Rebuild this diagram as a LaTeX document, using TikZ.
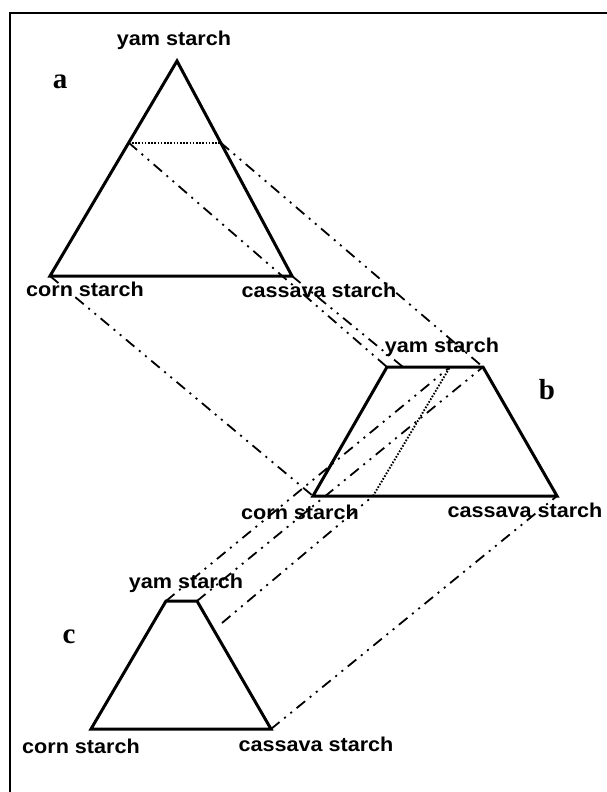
\documentclass[tikz,border=0pt]{standalone}
\usepackage{fontspec}
\newfontfamily\lblfont[FakeStretch=1.08]{Liberation Sans}
\newfontfamily\tagfont{Liberation Serif}
\usetikzlibrary{calc}

\begin{document}
\begin{tikzpicture}[x=1pt,y=-1pt,
  outline/.style={line width=3pt,line join=miter},
  proj/.style={line width=1.8pt,dash pattern=on 11pt off 6pt on 2pt off 6pt on 2pt off 6pt},
  cut/.style={line width=1.9pt,dash pattern=on 1.6pt off 1.6pt},
  lbl/.style={font=\lblfont\bfseries\fontsize{20}{24}\selectfont,inner sep=0pt},
  tag/.style={font=\tagfont\bfseries\fontsize{29}{33}\selectfont,inner sep=0pt}]
  \useasboundingbox (0,0) rectangle (607,792);

  %% Frame
  \draw[line width=1.6pt] (10,792) -- (10,13) -- (607,13);

  %% Triangle a
  \coordinate (aYam) at (177,61);
  \coordinate (aCorn) at (50,276);
  \coordinate (aCas) at (292,276);
  \coordinate (aCutL) at ($(aYam)!0.38!(aCorn)$);
  \coordinate (aCutR) at ($(aYam)!0.38!(aCas)$);
  \draw[outline] (aYam) -- (aCorn) -- (aCas) -- cycle;
  \draw[cut] (aCutL) -- (aCutR);
  \node[tag] (tagA) at (60,82) {a};
  \node[lbl] (aYamLbl) at (174,40) {yam starch};
  \node[lbl] (aCornLbl) at (85,289) {corn starch};
  \node[lbl] (aCasLbl) at (319,290) {cassava starch};

  %% Trapezoid b
  \coordinate (bYamL) at (387,367);
  \coordinate (bYamR) at (483,367);
  \coordinate (bCorn) at (313,496);
  \coordinate (bCas) at (557,496);
  \coordinate (bTopP) at (403,367);
  \coordinate (bTopQ) at (450,367);
  \coordinate (bBotQ) at (373,496);
  \draw[outline] (bYamL) -- (bYamR) -- (bCas) -- (bCorn) -- cycle;
  \node[tag] (tagB) at (547,390) {b};
  \node[lbl] (bYamLbl) at (442,347) {yam starch};
  \node[lbl] (bCornLbl) at (300,512) {corn starch};
  \node[lbl] (bCasLbl) at (525,510) {cassava starch};

  %% Trapezoid c
  \coordinate (cYamL) at (166,601);
  \coordinate (cYamR) at (197,601);
  \coordinate (cCorn) at (91,729);
  \coordinate (cCas) at (271,729);
  \coordinate (cFree) at (222,623);
  \draw[outline] (cYamL) -- (cYamR) -- (cCas) -- (cCorn) -- cycle;
  \node[tag] (tagC) at (69,637) {c};
  \node[lbl] (cYamLbl) at (186,583) {yam starch};
  \node[lbl] (cCornLbl) at (81,746) {corn starch};
  \node[lbl] (cCasLbl) at (316,744) {cassava starch};

  %% Projection lines a -> b
  \draw[proj] (aCutL) -- (bYamL);
  \draw[proj] (aCutR) -- (bYamR);
  \draw[proj] (aCas) -- (bTopP);
  \draw[proj] (aCorn) -- (bCorn);

  %% Projection lines c -> b
  \draw[proj] (cYamL) -- (bTopQ);
  \draw[proj] (cYamR) -- (bYamR);
  \draw[proj] (cFree) -- (bBotQ);
  \draw[cut] (bBotQ) -- (bTopQ);
  \draw[proj] (cCas) -- (bCas);
\end{tikzpicture}
\end{document}
